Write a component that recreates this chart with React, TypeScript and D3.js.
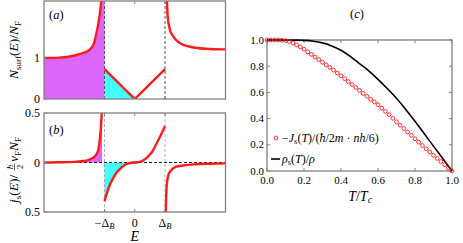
import React from 'react';
import * as d3 from 'd3';

// panel (a): surface DOS, E in units of Delta_B
const dosLeftE = [-3.0, -2.5, -2.2, -1.8, -1.5, -1.35, -1.27, -1.2, -1.15, -1.12, -1.1, -1.07];
const dosLeftN = [1.0, 1.01, 1.03, 1.1, 1.2, 1.35, 1.6, 1.85, 2.1, 2.3, 2.5, 2.9];
const dosMidE = [-1, 0, 1];
const dosMidN = [0.73, 0, 0.73];
const dosRightE = [1.04, 1.06, 1.09, 1.13, 1.18, 1.25, 1.35, 1.5, 1.8, 2.0, 2.5, 3.0];
const dosRightN = [3.2, 2.5, 2.0, 1.8, 1.65, 1.55, 1.45, 1.36, 1.28, 1.25, 1.22, 1.21];

// panel (b): spectral current
const jLeftE = [-3, -2.5, -2, -1.7, -1.5, -1.35, -1.25, -1.18, -1.14, -1.1, -1.08];
const jLeftV = [0.0, 0.002, 0.006, 0.015, 0.03, 0.055, 0.09, 0.17, 0.28, 0.45, 0.6];
const jMidE = [-1, -0.9, -0.8, -0.7, -0.6, -0.5, -0.4, -0.3, -0.2, -0.1, 0, 0.1, 0.2, 0.3, 0.4, 0.5, 0.6, 0.7, 0.8, 0.9, 1.0];
const jMidV = [-0.39, -0.29, -0.21, -0.15, -0.1, -0.07, -0.04, -0.02, -0.008, -0.002, 0, 0.003, 0.01, 0.025, 0.05, 0.08, 0.12, 0.18, 0.24, 0.3, 0.37];
const jRightE = [1.02, 1.03, 1.05, 1.08, 1.12, 1.2, 1.35, 1.6, 2.0, 2.5, 3.0];
const jRightV = [-0.65, -0.45, -0.26, -0.17, -0.12, -0.08, -0.045, -0.03, -0.018, -0.012, -0.009];

// panel (c)
const tGrid = [0, 0.02, 0.04, 0.06, 0.08, 0.1, 0.12, 0.14, 0.16, 0.18, 0.2, 0.22, 0.24, 0.26, 0.28, 0.3, 0.32, 0.34, 0.36, 0.38, 0.4, 0.42, 0.44, 0.46, 0.48, 0.5, 0.52, 0.54, 0.56, 0.58, 0.6, 0.62, 0.64, 0.66, 0.68, 0.7, 0.72, 0.74, 0.76, 0.78, 0.8, 0.82, 0.84, 0.86, 0.88, 0.9, 0.92, 0.94, 0.96, 0.98, 1.0];
const currentJ = [1.0, 1.0, 1.0, 1.0, 0.998, 0.995, 0.988, 0.977, 0.963, 0.947, 0.93, 0.91, 0.89, 0.87, 0.85, 0.83, 0.81, 0.79, 0.77, 0.748, 0.726, 0.704, 0.682, 0.66, 0.638, 0.615, 0.592, 0.57, 0.548, 0.527, 0.505, 0.48, 0.455, 0.43, 0.402, 0.376, 0.35, 0.324, 0.298, 0.272, 0.246, 0.22, 0.195, 0.17, 0.145, 0.12, 0.096, 0.072, 0.048, 0.024, 0.0];
const rhoT = [0, 0.1, 0.15, 0.2, 0.25, 0.3, 0.35, 0.4, 0.45, 0.5, 0.55, 0.6, 0.65, 0.7, 0.75, 0.8, 0.85, 0.9, 0.95, 1.0];
const rhoS = [1, 1, 0.999, 0.997, 0.991, 0.978, 0.955, 0.922, 0.875, 0.82, 0.765, 0.7, 0.63, 0.555, 0.47, 0.38, 0.285, 0.19, 0.095, 0];
const cTicks = [0, 0.2, 0.4, 0.6, 0.8, 1.0];

const RED = '#ff1a1a';
const PURPLE = '#dc66fa';
const CYAN = '#44ffff';
const FRAME = '#808080';

const zip = (xs: number[], ys: number[]) => xs.map((x, i) => [x, ys[i]] as [number, number]);

export default function App() {
  const xE = d3.scaleLinear().domain([-3, 3]).range([44, 225.5]);
  const yA = d3.scaleLinear().domain([0, 98 / 41]).range([99, 1]);
  const yB = d3.scaleLinear().domain([-0.5, 0.5]).range([212, 113]);
  const xC = d3.scaleLinear().domain([0, 1]).range([267, 452]);
  const yC = d3.scaleLinear().domain([0, 1]).range([171, 40]);

  const lineA = d3.line<[number, number]>().x(d => xE(d[0])).y(d => yA(d[1])).curve(d3.curveMonotoneX);
  const lineAV = d3.line<[number, number]>().x(d => xE(d[0])).y(d => yA(d[1]));
  const lineB = d3.line<[number, number]>().x(d => xE(d[0])).y(d => yB(d[1])).curve(d3.curveMonotoneX);
  const lineC = d3.line<[number, number]>().x(d => xC(d[0])).y(d => yC(d[1])).curve(d3.curveMonotoneX);

  const topA = yA.domain()[1];
  const areaA = d3.area<[number, number]>().x(d => xE(d[0])).y0(yA(0)).y1(d => yA(Math.min(d[1], topA))).curve(d3.curveMonotoneX);
  const areaAV = d3.area<[number, number]>().x(d => xE(d[0])).y0(yA(0)).y1(d => yA(d[1]));
  const areaB = d3.area<[number, number]>().x(d => xE(d[0])).y0(yB(0)).y1(d => yB(Math.max(-0.5, Math.min(d[1], 0.5)))).curve(d3.curveMonotoneX);

  const dosLeft = zip(dosLeftE, dosLeftN);
  const dosMid = zip(dosMidE, dosMidN);
  const dosRight = zip(dosRightE, dosRightN);
  const jLeft = zip(jLeftE, jLeftV);
  const jMid = zip(jMidE, jMidV);
  const jRight = zip(jRightE, jRightV);

  const purpleA = [...dosLeft, [-1, topA] as [number, number]];
  const cyanA = dosMid.filter(d => d[0] <= 0);
  const cyanB = jMid.filter(d => d[0] <= 0);

  const eTicks = [-1, 0, 1];
  const eLabels = ['\u2212\u0394', '0', '\u0394'];

  return (
    <svg width={463} height={243} style={{ position: 'absolute', left: 0, top: 0, background: '#fff' }}>
      <style>{'text { font-family: "Liberation Serif", "Times New Roman", serif; }'}</style>
      <defs>
        <clipPath id="clipA"><rect x={44} y={1} width={181.5} height={98} /></clipPath>
        <clipPath id="clipB"><rect x={44} y={113} width={181.5} height={99} /></clipPath>
      </defs>

      {/* panel (a) */}
      <g clipPath="url(#clipA)">
        <path d={areaA(purpleA) || ''} fill={PURPLE} />
        <path d={areaAV(cyanA) || ''} fill={CYAN} />
        {eTicks.filter(t => t !== 0).map(t => (
          <line key={t} x1={xE(t)} x2={xE(t)} y1={yA(0)} y2={1} stroke="#444" strokeWidth={0.9} strokeDasharray="3 2" />
        ))}
        <path d={lineA(dosLeft) || ''} fill="none" stroke={RED} strokeWidth={2.4} />
        <path d={lineAV(dosMid) || ''} fill="none" stroke={RED} strokeWidth={2.4} />
        <path d={lineA(dosRight) || ''} fill="none" stroke={RED} strokeWidth={2.4} />
      </g>
      <rect x={44} y={1} width={181.5} height={98} fill="none" stroke={FRAME} strokeWidth={1.3} />
      {eTicks.map(t => (
        <g key={t}>
          <line x1={xE(t)} x2={xE(t)} y1={99} y2={96} stroke={FRAME} />
          <line x1={xE(t)} x2={xE(t)} y1={1} y2={4} stroke={FRAME} />
        </g>
      ))}
      {[0, 1].map(v => (
        <g key={v}>
          <line x1={44} x2={47} y1={yA(v)} y2={yA(v)} stroke={FRAME} />
          <text x={40} y={yA(v) + 4} fontSize={12} textAnchor="end">{v}</text>
        </g>
      ))}
      <text x={49} y={19} fontSize={12.5}>(<tspan fontStyle="italic">a</tspan>)</text>
      <text transform="translate(18,50) rotate(-90)" fontSize={13.5} textAnchor="middle">
        <tspan fontStyle="italic">N</tspan><tspan fontSize={9} dy={3}>surf</tspan><tspan dy={-3}>(</tspan><tspan fontStyle="italic">E</tspan>)/<tspan fontStyle="italic">N</tspan><tspan fontSize={9} dy={3}>F</tspan>
      </text>

      {/* panel (b) */}
      <g clipPath="url(#clipB)">
        <path d={areaB(jLeft) || ''} fill={PURPLE} />
        <path d={areaB(cyanB) || ''} fill={CYAN} />
        {eTicks.filter(t => t !== 0).map(t => (
          <line key={t} x1={xE(t)} x2={xE(t)} y1={212} y2={113} stroke="#999" strokeWidth={0.8} strokeDasharray="3 2" />
        ))}
        <line x1={44} x2={225.5} y1={yB(0)} y2={yB(0)} stroke="#000" strokeWidth={0.9} strokeDasharray="3 2" />
        <path d={lineB(jLeft) || ''} fill="none" stroke={RED} strokeWidth={2.4} />
        <path d={lineB(jMid) || ''} fill="none" stroke={RED} strokeWidth={2.4} />
        <path d={lineB(jRight) || ''} fill="none" stroke={RED} strokeWidth={2.4} />
      </g>
      <rect x={44} y={113} width={181.5} height={99} fill="none" stroke={FRAME} strokeWidth={1.3} />
      {eTicks.map((t, i) => (
        <g key={t}>
          <line x1={xE(t)} x2={xE(t)} y1={212} y2={209} stroke={FRAME} />
          <line x1={xE(t)} x2={xE(t)} y1={113} y2={116} stroke={FRAME} />
          <text x={xE(t)} y={227} fontSize={12} textAnchor="middle">
            {eLabels[i]}{t !== 0 && <tspan fontStyle="italic" fontSize={8.5} dy={2}>B</tspan>}
          </text>
        </g>
      ))}
      {[-0.5, 0, 0.5].map(v => (
        <g key={v}>
          <line x1={44} x2={47} y1={yB(v)} y2={yB(v)} stroke={FRAME} />
          <text x={40} y={yB(v) + 4} fontSize={12} textAnchor="end">{Math.abs(v)}</text>
        </g>
      ))}
      <text x={xE(0)} y={241} fontSize={14} textAnchor="middle" fontStyle="italic">E</text>
      <text x={49} y={134} fontSize={12.5}>(<tspan fontStyle="italic">b</tspan>)</text>
      <g transform="translate(18,203) rotate(-90)">
        <text x={0} y={0} fontSize={13.5}>
          <tspan fontStyle="italic">j</tspan><tspan fontSize={9} dy={3}>s</tspan><tspan dy={-3}>(</tspan><tspan fontStyle="italic">E</tspan>)/
        </text>
        <text x={36} y={-5} fontSize={9} textAnchor="middle" fontStyle="italic">ħ</text>
        <line x1={32.5} x2={39.5} y1={-3.5} y2={-3.5} stroke="#000" strokeWidth={0.6} />
        <text x={36} y={4.5} fontSize={9} textAnchor="middle">2</text>
        <text x={41} y={0} fontSize={13.5}>
          <tspan fontStyle="italic">v</tspan><tspan fontSize={9} dy={3}>F</tspan><tspan dy={-3} fontStyle="italic">N</tspan><tspan fontSize={9} dy={3}>F</tspan>
        </text>
      </g>

      {/* panel (c) */}
      <text x={357} y={18} fontSize={12.5} textAnchor="middle">(<tspan fontStyle="italic">c</tspan>)</text>
      <rect x={267} y={40} width={185} height={131} fill="none" stroke={FRAME} strokeWidth={1.3} />
      {cTicks.map(t => (
        <g key={t}>
          <line x1={xC(t)} x2={xC(t)} y1={171} y2={168} stroke={FRAME} />
          <line x1={xC(t)} x2={xC(t)} y1={40} y2={43} stroke={FRAME} />
          <line x1={267} x2={270} y1={yC(t)} y2={yC(t)} stroke={FRAME} />
          <line x1={452} x2={449} y1={yC(t)} y2={yC(t)} stroke={FRAME} />
          <text x={xC(t)} y={184} fontSize={11} textAnchor="middle">{t.toFixed(1)}</text>
          <text x={264} y={yC(t) + 3.5} fontSize={11} textAnchor="end">{t.toFixed(1)}</text>
        </g>
      ))}
      <path d={lineC(zip(rhoT, rhoS)) || ''} fill="none" stroke="#000" strokeWidth={1.6} />
      {tGrid.map((t, i) => (
        <circle key={t} cx={xC(t)} cy={yC(currentJ[i])} r={1.9} fill="none" stroke={RED} strokeWidth={0.9} />
      ))}
      <text x={360} y={201} fontSize={14} textAnchor="middle">
        <tspan fontStyle="italic">T</tspan>/<tspan fontStyle="italic">T</tspan><tspan fontSize={9.5} dy={2} fontStyle="italic">c</tspan>
      </text>
      <circle cx={276} cy={138} r={1.9} fill="none" stroke={RED} strokeWidth={0.9} />
      <text x={282} y={142} fontSize={12}>
        {'\u2212'}<tspan fontStyle="italic">J</tspan><tspan fontSize={8.5} dy={2}>s</tspan><tspan dy={-2}>(</tspan><tspan fontStyle="italic">T</tspan>)/(<tspan fontStyle="italic">ħ</tspan>/2<tspan fontStyle="italic">m</tspan> · <tspan fontStyle="italic">nh</tspan>/6)
      </text>
      <line x1={271} x2={280} y1={159} y2={159} stroke="#000" strokeWidth={1.6} />
      <text x={282} y={163} fontSize={12}>
        <tspan fontStyle="italic">ρ</tspan><tspan fontSize={8.5} dy={2}>s</tspan><tspan dy={-2}>(</tspan><tspan fontStyle="italic">T</tspan>)/<tspan fontStyle="italic">ρ</tspan>
      </text>
    </svg>
  );
}
